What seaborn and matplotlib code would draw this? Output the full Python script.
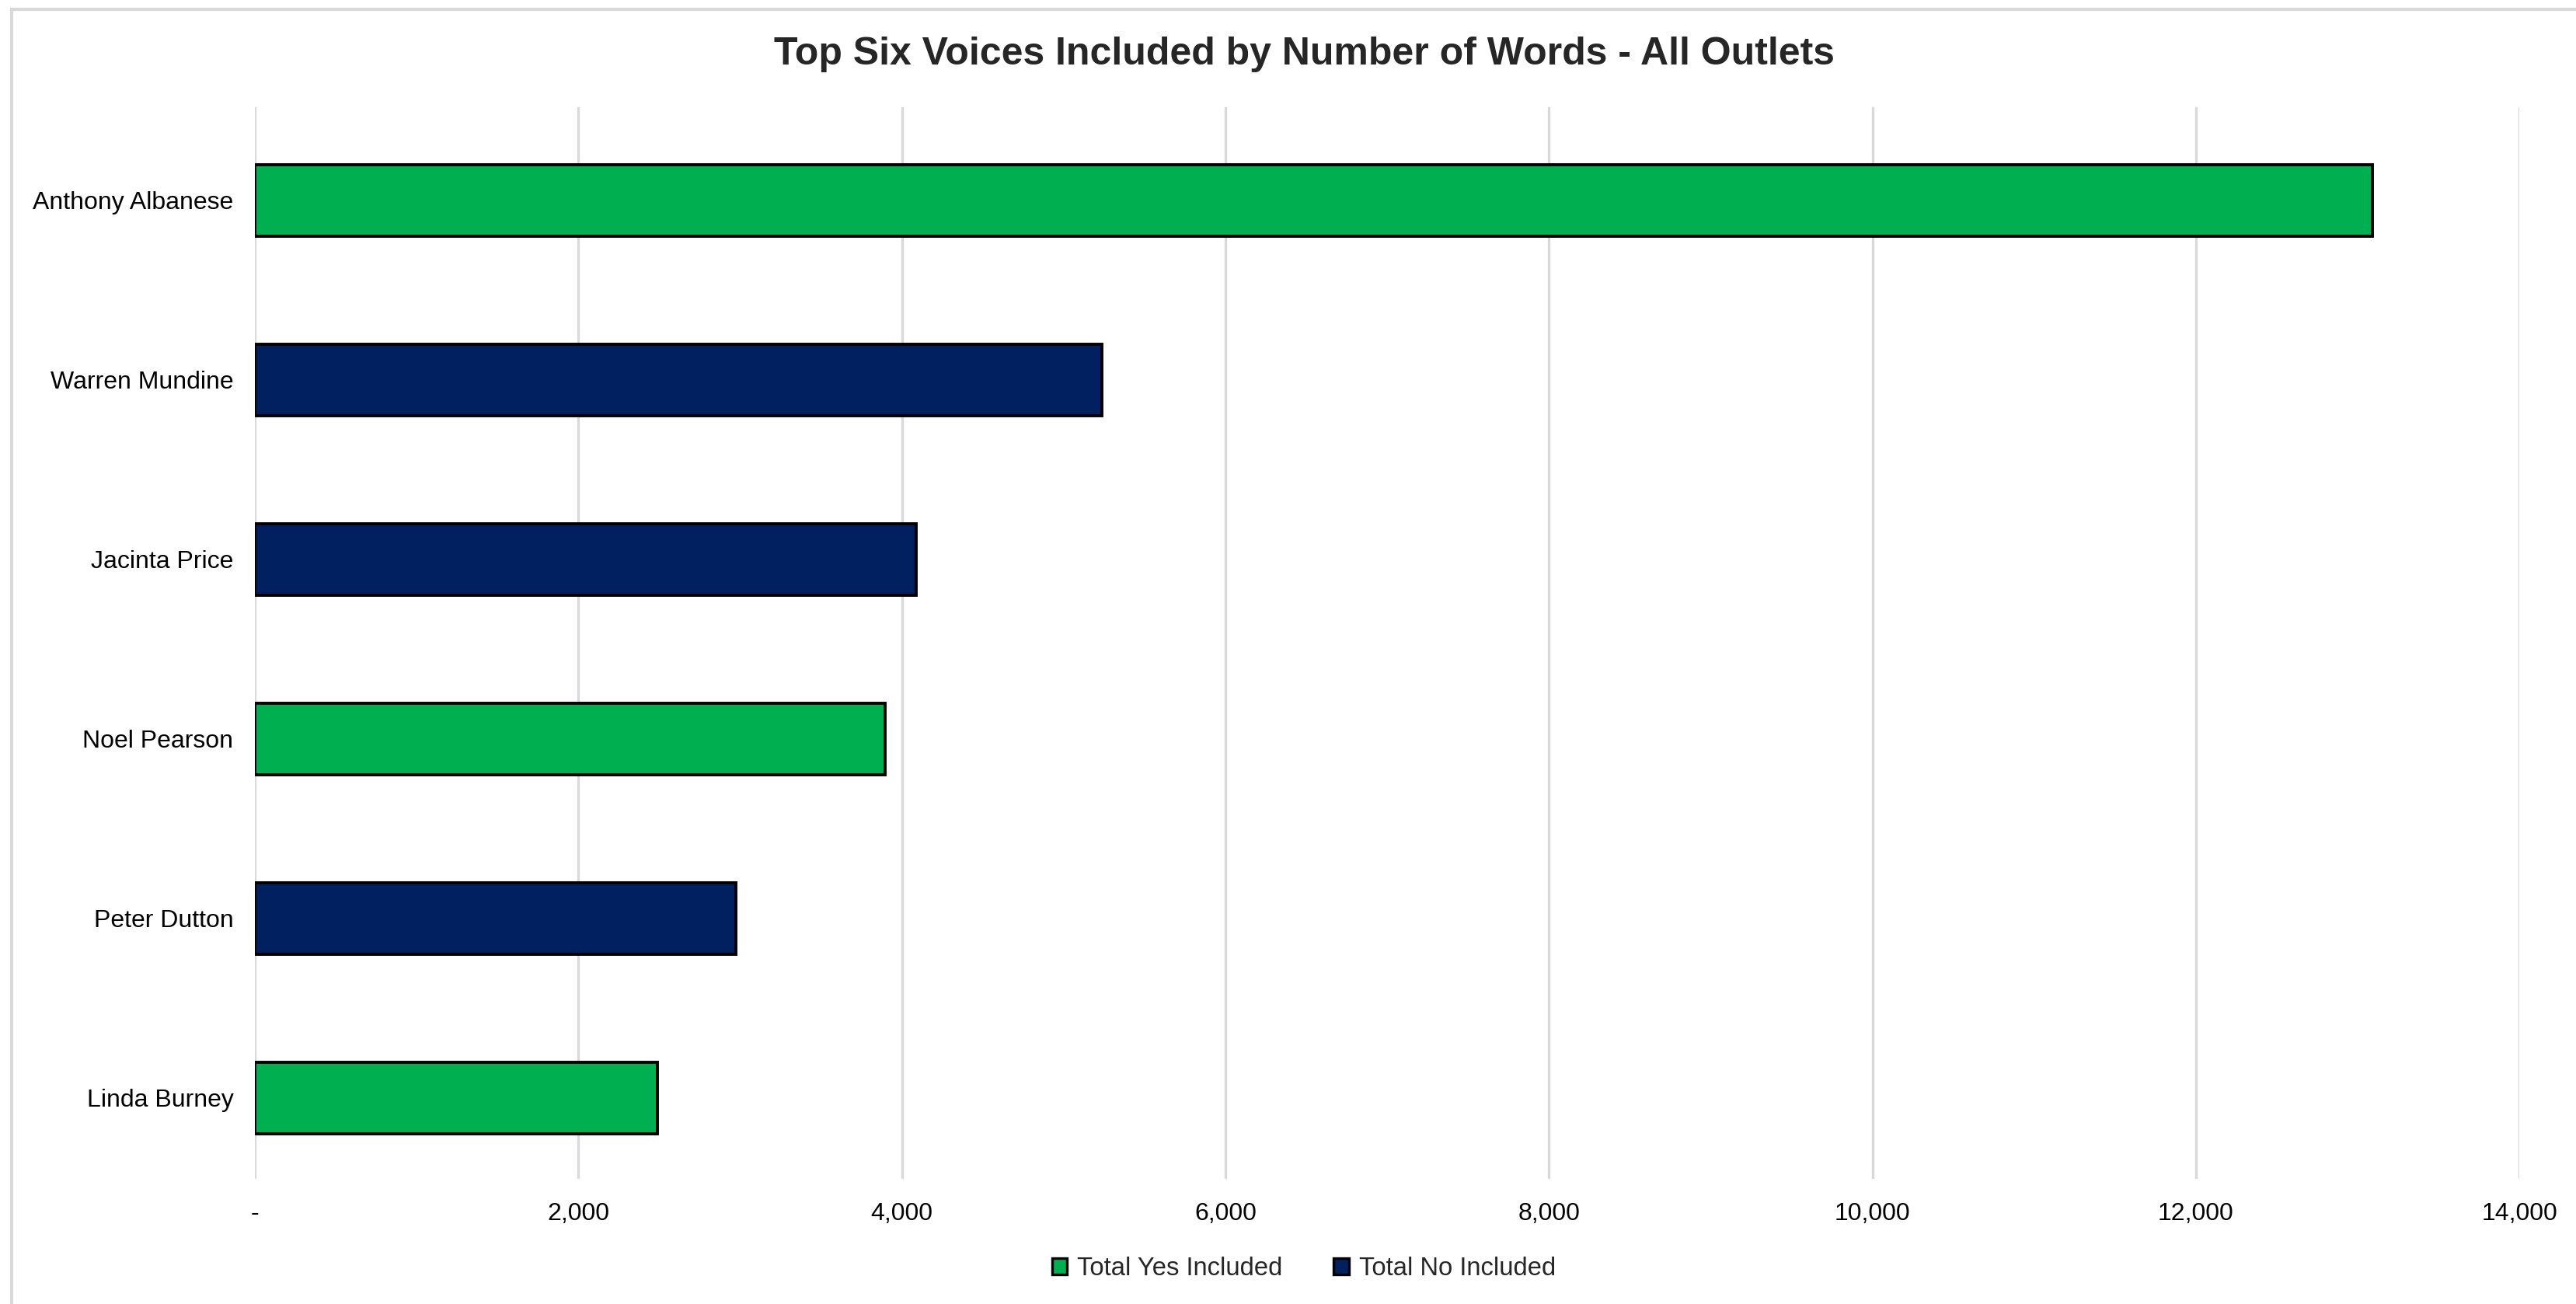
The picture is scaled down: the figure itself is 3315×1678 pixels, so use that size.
import pandas as pd
import seaborn as sns
import matplotlib
matplotlib.use("Agg")
import matplotlib.pyplot as plt
from matplotlib.patches import Patch, Rectangle
from matplotlib.ticker import FuncFormatter, MultipleLocator

# data
voices = ["Anthony Albanese", "Warren Mundine", "Jacinta Price",
          "Noel Pearson", "Peter Dutton", "Linda Burney"]
words = [13090, 5235, 4087, 3895, 2973, 2488]
side = ["Total Yes Included", "Total No Included", "Total No Included",
        "Total Yes Included", "Total No Included", "Total Yes Included"]

palette = {"Total Yes Included": "#00B050", "Total No Included": "#002060"}

df = pd.DataFrame({"Voice": voices, "Words": words, "Side": side})

sns.set_style("white")
plt.rcParams["font.family"] = ["Liberation Sans", "DejaVu Sans"]

fig = plt.figure(figsize=(16.575, 8.39), dpi=200)
ax = fig.add_axes([0.099, 0.096, 0.879, 0.822])

sns.barplot(data=df, x="Words", y="Voice", hue="Side", palette=palette,
            saturation=1, dodge=False, width=0.4, orient="h",
            edgecolor="black", linewidth=1.4, legend=False, ax=ax, zorder=3)

ax.set_xlim(0, 14000)
ax.set_ylim(5.45, -0.52)
ax.xaxis.set_major_locator(MultipleLocator(2000))
ax.xaxis.set_major_formatter(FuncFormatter(lambda v, p: "-" if v == 0 else f"{v:,.0f}"))
ax.grid(axis="x", color="#d9d9d9", linewidth=1.2, zorder=0)
ax.set_axisbelow(True)
for s in ax.spines.values():
    s.set_visible(False)
ax.set_xlabel("")
ax.set_ylabel("")
ax.tick_params(axis="both", length=0, labelsize=11.5, colors="black")
ax.tick_params(axis="y", pad=10)
ax.tick_params(axis="x", pad=11)

fig.suptitle("Top Six Voices Included by Number of Words - All Outlets",
             x=0.5064, y=0.958, va="center", fontsize=18, fontweight="bold")

handles = [Patch(facecolor=palette[k], edgecolor="black", linewidth=1.2, label=k)
           for k in ["Total Yes Included", "Total No Included"]]
fig.legend(handles=handles, loc="center", bbox_to_anchor=(0.5062, 0.027), ncol=2,
           frameon=False, fontsize=11.8, handlelength=0.6, handleheight=0.6,
           handletextpad=0.4, columnspacing=2.0)

# light outer border of the chart area
fig.patches.append(Rectangle((0.0045, -0.01), 1.0, 1.003, transform=fig.transFigure,
                             fill=False, edgecolor="#d9d9d9", linewidth=1.5))

fig.savefig("out.png", dpi=200)
